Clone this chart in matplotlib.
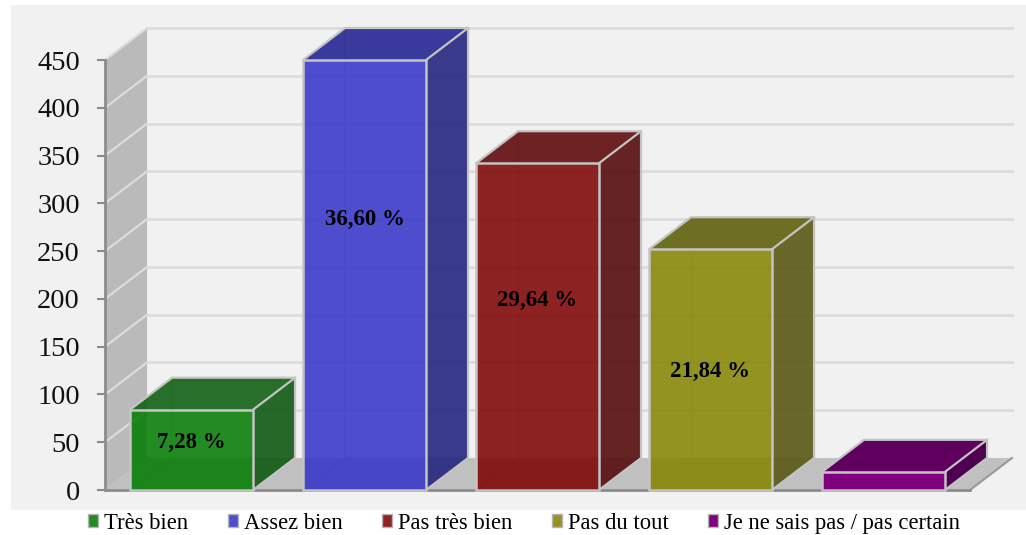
import matplotlib
matplotlib.use('Agg')
import matplotlib.pyplot as plt
from matplotlib.patches import Polygon, Rectangle, Patch

plt.rcParams['font.family'] = ['Liberation Serif', 'DejaVu Serif']

categories = ['Très bien', 'Assez bien', 'Pas très bien', 'Pas du tout', 'Je ne sais pas / pas certain']
values = [84, 450, 342, 252, 19]
pct_labels = ['7,28 %', '36,60 %', '29,64 %', '21,84 %']
label_y = [50, 283, 198, 124]
yticks = [0, 50, 100, 150, 200, 250, 300, 350, 400, 450]

front_colors = ['#007c00', '#3232c9', '#7d0000', '#848400', '#800080']
top_colors = ['#126213', '#262693', '#600b0d', '#61610e', '#5f005f']
side_colors = ['#105912', '#26267f', '#570c0e', '#595914', '#500050']
legend_colors = ['#228b22', '#4d4dcf', '#8e2323', '#949426', '#800080']
front_alpha = [0.86, 0.86, 0.86, 0.86, 1.0]
box_alpha = [0.9, 0.9, 0.9, 0.9, 1.0]

# depth of the fake 3d box, in data units
DX = 0.243
DY = 33.5
BAR_W = 0.711
EDGE = '#c4c4c4'

fig = plt.figure(figsize=(10.26, 5.35), dpi=100, facecolor='white')
fig.patches.append(Rectangle((11 / 1026, 25 / 535), 1015 / 1026, 505 / 535, transform=fig.transFigure,
                             facecolor='#f1f1f1', edgecolor='none', zorder=-1))
ax = fig.add_axes([105 / 1026, 45 / 535, 865 / 1026, 430 / 535])
ax.patch.set_visible(False)
ax.set_xlim(0, 5)
ax.set_ylim(0, 450)


def poly(points, color, alpha=1.0, edge='none', lw=0, z=2):
    ax.add_patch(Polygon(points, closed=True, facecolor=color, edgecolor=edge, linewidth=lw,
                         alpha=alpha, clip_on=False, zorder=z))


# walls and floor
poly([(0, 0), (DX, DY), (DX, 450 + DY), (0, 450)], '#bababa', z=1)
poly([(0, 0), (DX, DY), (5 + DX, DY), (5, 0)], '#c0c0c0', z=1)
ax.plot([5, 5 + DX], [0, DY], color='#999999', lw=1.5, clip_on=False, zorder=1.2)

# grid lines, on the back wall and the side wall
for t in yticks[1:]:
    ax.plot([DX, 5 + DX], [t + DY, t + DY], color='#dcdcdc', lw=2, clip_on=False, zorder=1.5)
    ax.plot([0, DX], [t, t + DY], color='#dcdcdc', lw=1.6, clip_on=False, zorder=1.5)


def draw_bar(i, val):
    x0 = i + 0.5 - BAR_W / 2
    x1 = x0 + BAR_W
    # hidden edges show through a little
    ax.plot([x0 + DX, x0 + DX], [DY, val + DY], color='black', alpha=0.07, lw=1.5, clip_on=False, zorder=2)
    ax.plot([x0, x0 + DX, x1 + DX], [0, DY, DY], color='black', alpha=0.07, lw=1.5, clip_on=False, zorder=2)
    poly([(x1, 0), (x1 + DX, DY), (x1 + DX, val + DY), (x1, val)], side_colors[i], alpha=box_alpha[i], z=3)
    poly([(x0, val), (x0 + DX, val + DY), (x1 + DX, val + DY), (x1, val)], top_colors[i], alpha=box_alpha[i], z=3)
    # outlines stay opaque, so they go on separately
    ax.add_patch(Polygon([(x1, 0), (x1 + DX, DY), (x1 + DX, val + DY), (x0 + DX, val + DY), (x0, val)], closed=False,
                         fill=False, edgecolor=EDGE, linewidth=1.6, clip_on=False, zorder=3.5))
    poly([(x0, 0), (x1, 0), (x1, val), (x0, val)], front_colors[i], alpha=front_alpha[i], z=4)
    ax.add_patch(Polygon([(x0, 0), (x1, 0), (x1, val), (x0, val)], closed=True, fill=False, edgecolor=EDGE,
                         linewidth=1.8, clip_on=False, zorder=5))
    ax.plot([x1, x1 + DX], [val, val + DY], color=EDGE, lw=1.6, clip_on=False, zorder=5)


for i, v in enumerate(values):
    draw_bar(i, v)

for i, lab in enumerate(pct_labels):
    ax.text(i + 0.5, label_y[i], lab, ha='center', va='center', fontsize=16.5, fontweight='bold',
            color='black', zorder=6)

# axes
for s in ['top', 'right']:
    ax.spines[s].set_visible(False)
for s in ['left', 'bottom']:
    ax.spines[s].set_color('#8c8c8c')
    ax.spines[s].set_linewidth(2)
    ax.spines[s].set_zorder(2.5)
ax.set_xticks([])
ax.set_yticks(yticks)
ax.tick_params(axis='y', length=6, width=1.5, color='#8c8c8c', labelsize=20.5, pad=12, labelcolor='#111111')

handles = [Patch(facecolor=c, edgecolor='#b5b5b5', linewidth=1) for c in legend_colors]
fig.legend(handles, categories, loc='lower left', bbox_to_anchor=(87 / 1026, 0), ncol=5, frameon=False,
           fontsize=16.3, handlelength=0.45, handleheight=0.5, handletextpad=0.25, columnspacing=1.75,
           borderaxespad=0, borderpad=0.05)

fig.savefig('out.png', dpi=100)
